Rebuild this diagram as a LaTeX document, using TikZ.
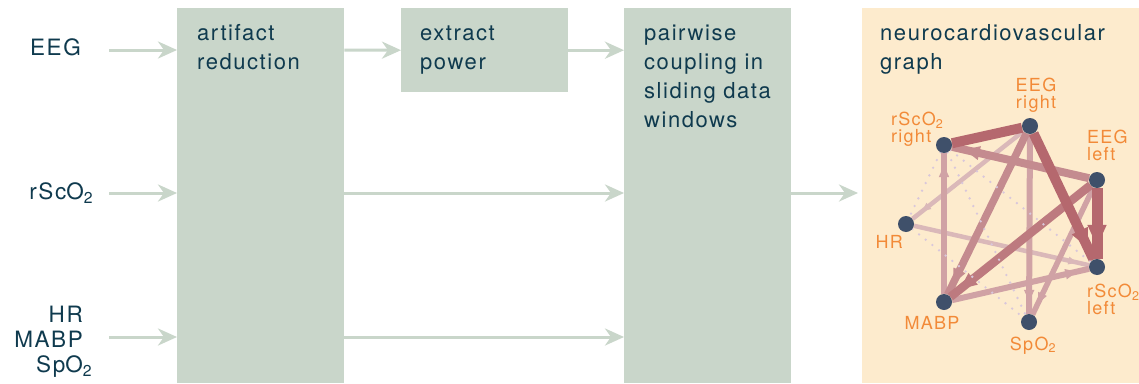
\documentclass[tikz,border=0pt]{standalone}
\usepackage{fontspec}
\setmainfont{TeX Gyre Heros}[LetterSpace=7]
\usetikzlibrary{arrows.meta, decorations.markings}

\definecolor{sage}{HTML}{C9D6CA}
\definecolor{ink}{HTML}{0F3A4E}
\definecolor{panelc}{HTML}{FDEBCD}
\definecolor{tagc}{HTML}{F28A38}
\definecolor{vertc}{HTML}{3F506A}
\definecolor{wA}{HTML}{B5686E}
\definecolor{wB}{HTML}{BD7A7F}
\definecolor{wC}{HTML}{C48B8F}
\definecolor{wD}{HTML}{D0A2A5}
\definecolor{wE}{HTML}{DAB8B9}
\definecolor{dotc}{HTML}{D9C7DB}

\newcommand{\oxy}{O\textsubscript{2}}

\begin{document}
\begin{tikzpicture}[
    x=1pt, y=-1pt,
    every node/.style={inner sep=0pt},
    stage/.style={fill=sage, anchor=north west, minimum width=167pt},
    stagetext/.style={anchor=base west, align=left, text=ink,
                      font=\fontsize{22}{29}\selectfont},
    intext/.style={anchor=base east, align=right, text=ink,
                   font=\fontsize{22.5}{25}\selectfont},
    flow/.style={draw=sage, line width=3pt,
                 -{Stealth[length=19pt, width=17pt, inset=6pt]}},
    vert/.style={circle, fill=vertc, minimum size=16pt},
    tag/.style={text=tagc, align=left, font=\fontsize{18}{16.5}\selectfont},
    coup/.style 2 args={draw=#1, line width=#2pt, postaction={decorate},
                        decoration={markings, mark=at position -12pt with
                        {\arrow{Triangle[width=0pt 1.6, length=0pt 2.0]}}}},
    tie/.style 2 args={draw=#1, line width=#2pt},
    weak/.style={draw=dotc, line width=2.6pt, line cap=round,
                 dash pattern=on 0pt off 8.5pt},
]
\pgfdeclarelayer{panel}
\pgfdeclarelayer{edges}
\pgfsetlayers{panel,edges,main}
\useasboundingbox (0,0) rectangle (1139,383);

% processing stages
\begin{pgfonlayer}{panel}
\fill[white] (0,0) rectangle (1139,383);
\node[stage, minimum height=375pt] (artifact) at (177,8) {};
\node[stage, minimum height=84pt] (extract) at (401,8) {};
\node[stage, minimum height=375pt] (coupling) at (624,8) {};
\node[fill=panelc, anchor=north west, minimum width=277pt,
      minimum height=375pt] (graphpanel) at (862,8) {};
\end{pgfonlayer}

% (base anchor of a multi-line node sits on its last line)
\node[stagetext] at (197,69) {artifact\\reduction};
\node[stagetext] at (420,69) {extract\\power};
\node[stagetext] at (644,127) {pairwise\\coupling in\\sliding data\\windows};
\node[stagetext] at (880,69) {neurocardiovascular\\graph};

% input signals
\node[intext] (eeg) at (81,55) {EEG};
\node[intext] (rsc) at (84,199) {rSc\rlap{\oxy}\phantom{O}};
\node[intext] (sys) at (83,372) {HR\\MABP\\Sp\rlap{\oxy}\phantom{O}};
\coordinate (eegin) at (109,50);
\coordinate (rscin) at (109,193);
\coordinate (sysin) at (109,337);

\draw[flow] (eegin) -- (eegin -| artifact.west);
\draw[flow] (rscin) -- (rscin -| artifact.west);
\draw[flow] (sysin) -- (sysin -| artifact.west);
\draw[flow] (artifact.east |- eegin) -- (extract.west);
\draw[flow] (extract.east) -- (extract.east -| coupling.west);
\draw[flow] (artifact.east |- rscin) -- (coupling.west |- rscin);
\draw[flow] (artifact.east |- sysin) -- (coupling.west |- sysin);
\draw[flow] (coupling.east |- rscin) -- ([xshift=-4pt]graphpanel.west |- rscin);

% graph vertices
\node[vert] (eegR) at (1030,126) {};
\node[vert] (rscR) at (944,145) {};
\node[vert] (eegL) at (1097,180) {};
\node[vert] (hr) at (906,224) {};
\node[vert] (rscL) at (1097,267) {};
\node[vert] (mabp) at (944,302) {};
\node[vert] (spo) at (1029,322) {};

\node[tag, align=center, anchor=base] at (1036,108) {EEG\\right};
\node[tag, anchor=base west] at (891,142) {rSc\oxy\\right};
\node[tag, anchor=base west] at (1087,160) {EEG\\left};
\node[tag, anchor=base east] at (903,248) {HR};
\node[tag, anchor=base west] at (1087,314) {rSc\oxy\\left};
\node[tag, anchor=base] at (932,329) {MABP};
\node[tag, anchor=base] at (1033,350) {Sp\oxy};

\begin{pgfonlayer}{edges}
% weak couplings first, strong ones on top
\draw[coup={wE}{4.5}] (eegR) -- (hr);
\draw[coup={wE}{4.5}] (hr) -- (rscL);
\draw[coup={wD}{5.5}] (eegL) -- (spo);
\draw[coup={wD}{6}] (eegR) -- (spo);
\draw[coup={wD}{6}] (mabp) -- (rscR);
\draw[coup={wD}{6}] (mabp) -- (rscL);
\draw[coup={wC}{8}] (eegL) -- (rscR);
\draw[coup={wC}{7.5}] (eegR) -- (mabp);
\draw[coup={wB}{8.5}] (eegL) -- (mabp);
\draw[tie={wA}{10}] (rscR) -- (eegR);
\draw[coup={wA}{10}] (eegR) -- (rscL);
\draw[coup={wA}{11}] (eegL) -- (rscL);

% insignificant pairs
\draw[weak] (rscR) -- (hr);
\draw[weak] (rscR) -- (spo);
\draw[weak] (rscR) -- (rscL);
\draw[weak] (hr) -- (spo);
\end{pgfonlayer}
\end{tikzpicture}
\end{document}
